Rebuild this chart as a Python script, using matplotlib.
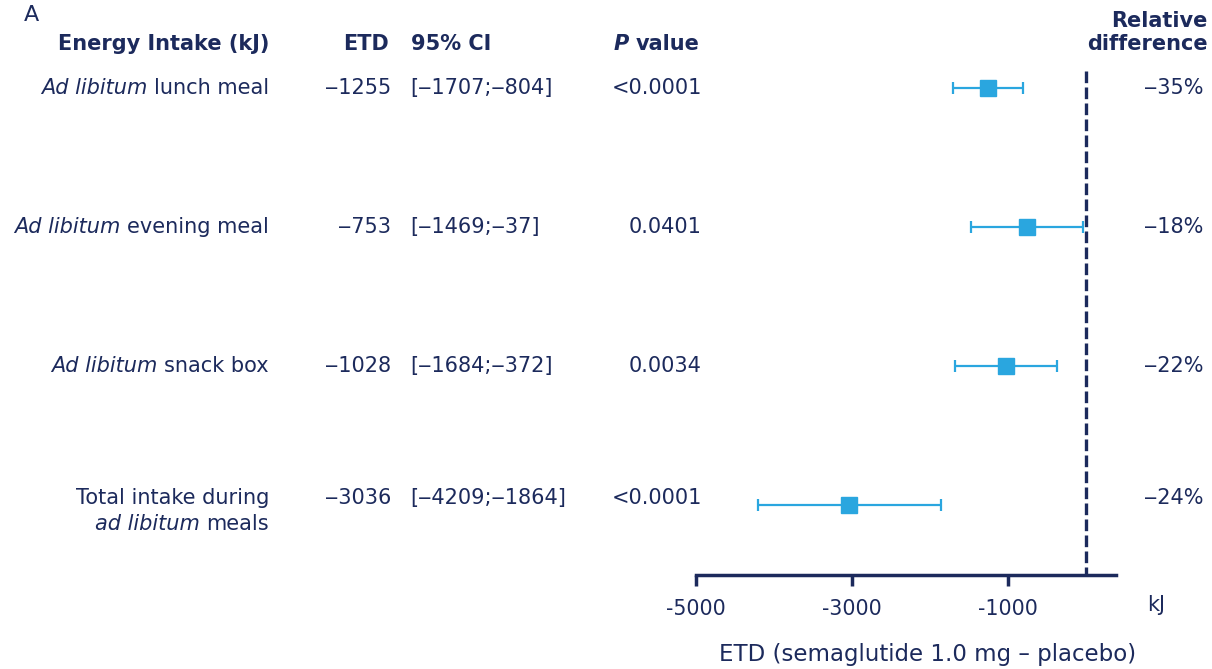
"""Forest plot of energy intake differences, semaglutide vs placebo."""

import matplotlib

matplotlib.use("Agg")
from matplotlib import pyplot as plt
from matplotlib import transforms

NAVY = "#1c2a5c"
BLUE = "#2aa6df"
FS = 15

# Estimated treatment differences (kJ) with 95% CI
labels = [
    [("Ad libitum", "italic"), ("lunch meal", "normal")],
    [("Ad libitum", "italic"), ("evening meal", "normal")],
    [("Ad libitum", "italic"), ("snack box", "normal")],
    [("Total intake during", "normal")],
]
label_second_line = [("ad libitum", "italic"), ("meals", "normal")]
etd = [-1255, -753, -1028, -3036]
ci_low = [-1707, -1469, -1684, -4209]
ci_high = [-804, -37, -372, -1864]
p_values = ["<0.0001", "0.0401", "0.0034", "<0.0001"]
rel_diff = [-35, -18, -22, -24]
x_ticks = [-5000, -3000, -1000]


def dash(v):
    return f"{v}".replace("-", "\u2012")


def draw_pieces(fig, trans, x, y, pieces, gap=6.6, **kw):
    """Draw mixed-style pieces right-aligned, right to left."""
    renderer = fig.canvas.get_renderer()
    offset = 0.0
    for text, style in reversed(pieces):
        weight = "normal"
        if style.startswith("bold"):
            weight = "bold"
            style = style.replace("bold", "").strip() or "normal"
        t = fig.text(
            x, y, text, ha="right", va="center", style=style, weight=weight,
            transform=transforms.offset_copy(trans, fig=fig, x=-offset, units="dots"),
            **kw,
        )
        offset += t.get_window_extent(renderer).width + gap


fig = plt.figure(figsize=(12.12, 6.69), dpi=100)
ax = fig.add_axes([0.5743, 0.1405, 0.3465, 0.7698])

rows = list(range(len(etd)))
err = [[e - lo for e, lo in zip(etd, ci_low)], [hi - e for e, hi in zip(etd, ci_high)]]
ax.errorbar(
    etd, rows, xerr=err, fmt="s", color=BLUE, ecolor=BLUE, markersize=11.5,
    elinewidth=1.6, capsize=4, capthick=1.6, zorder=3,
)
ax.vlines(0, -0.12, 3.5, colors=NAVY, linestyles=(0, (3.5, 1.3)), linewidth=2.4, zorder=2)

ax.set_xlim(-5000, 385)
ax.set_ylim(3.5, -0.2)
for side in ("top", "right", "left"):
    ax.spines[side].set_visible(False)
ax.spines["bottom"].set_color(NAVY)
ax.spines["bottom"].set_linewidth(2.5)
ax.set_yticks([])
ax.set_xticks(x_ticks)
ax.set_xticklabels([str(t) for t in x_ticks])
ax.tick_params(axis="x", colors=NAVY, width=2.5, length=8, pad=9, labelsize=14.8)

trans = transforms.blended_transform_factory(fig.transFigure, ax.transData)
text_kw = dict(color=NAVY, fontsize=FS)

for i in rows:
    y = i if i < 3 else i - 0.05
    draw_pieces(fig, trans, 0.222, y, labels[i], **text_kw)
    fig.text(0.3226, y, dash(etd[i]), ha="right", va="center", transform=trans, **text_kw)
    fig.text(0.3385, y, f"[{dash(ci_low[i])};{dash(ci_high[i])}]", ha="left", va="center",
             transform=trans, **text_kw)
    fig.text(0.5792, y, p_values[i], ha="right", va="center", transform=trans, **text_kw)
    fig.text(0.9926, y, f"{dash(rel_diff[i])}%", ha="right", va="center", transform=trans,
             **text_kw)
draw_pieces(fig, trans, 0.222, 3.135, label_second_line, **text_kw)

# Column headers
fig.text(0.02, 0.977, "A", ha="left", va="center", color=NAVY, fontsize=16)
fig.text(0.222, 0.934, "Energy Intake (kJ)", ha="right", va="center", weight="bold", **text_kw)
fig.text(0.321, 0.934, "ETD", ha="right", va="center", weight="bold", **text_kw)
fig.text(0.339, 0.934, "95% CI", ha="left", va="center", weight="bold", **text_kw)
draw_pieces(fig, fig.transFigure, 0.577, 0.934, [("P", "bold italic"), ("value", "bold")],
            **text_kw)
fig.text(0.9965, 0.951, "Relative\ndifference", ha="right", va="center", weight="bold",
         multialignment="right", linespacing=1.2, **text_kw)

fig.text(0.954, 0.096, "kJ", ha="center", va="center", **text_kw)
fig.text(0.765, 0.022, "ETD (semaglutide 1.0 mg \u2013 placebo)", ha="center", va="center",
         color=NAVY, fontsize=16.5)

fig.savefig("out.png", dpi=100)
